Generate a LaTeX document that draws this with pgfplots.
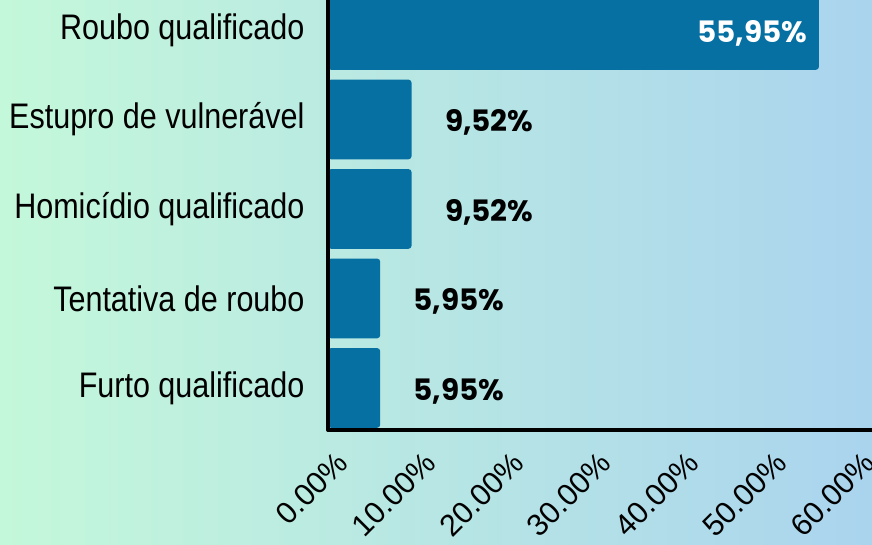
\documentclass[border=0pt]{standalone}
\usepackage{pgfplots}
\pgfplotsset{compat=1.18}
\usepackage{fontspec}
\setmainfont{Liberation Sans}[FakeStretch=0.86]
\newfontfamily\tickfont{Liberation Sans}
\newfontfamily\valfont{Poppins}
\definecolor{barblue}{RGB}{6,112,163}
\definecolor{bgl}{RGB}{196,248,218}
\definecolor{bgr}{RGB}{170,212,238}

\begin{document}
\begin{tikzpicture}
\useasboundingbox (0,0) rectangle (872pt,544pt);
\shade[left color=bgl, right color=bgr] (0,0) rectangle (872pt,544pt);
\begin{axis}[
    at={(328pt,114pt)}, anchor=south west,
    scale only axis,
    width=544pt, height=430pt,
    xbar, bar shift=0pt, bar width=0.89,
    xmin=0, xmax=62, ymin=-0.47, ymax=4.335,
    enlargelimits=false,
    axis x line*=bottom, axis y line*=left,
    axis line style={line width=3.5pt, line cap=round, -},
    axis on top,
    major tick length=0pt,
    /pgf/number format/assume math mode=true,
    xtick={0,10,...,60},
    xticklabel={\pgfmathprintnumber[fixed,fixed zerofill,precision=2,assume math mode=true]{\tick}\%},
    xticklabel style={font=\tickfont\fontsize{30.5}{34}\selectfont, rotate=45, anchor=east, xshift=-6pt, yshift=-30pt},
    ytick={0,1,2,3,4},
    yticklabels={Furto qualificado, Tentativa de roubo, Homicídio qualificado, Estupro de vulnerável, Roubo qualificado},
    yticklabel style={font=\fontsize{35.5}{40}\selectfont, xshift=-20pt},
    point meta=x,
    nodes near coords={\pgfmathprintnumber[fixed,fixed zerofill,precision=2,use comma,assume math mode=true]{\pgfplotspointmeta}\%},
]
\addplot[fill=barblue, draw=none, rounded corners=3pt,
    nodes near coords style={anchor=west, xshift=30pt, yshift=-3pt, text=black, font=\valfont\bfseries\fontsize{29.5}{33}\selectfont}]
    coordinates {(5.95,0) (5.95,1) (9.52,2) (9.52,3)};
\addplot[fill=barblue, draw=none, rounded corners=3pt,
    nodes near coords style={anchor=east, xshift=-8pt, yshift=-3pt, text=white, font=\valfont\bfseries\fontsize{29.5}{33}\selectfont}]
    coordinates {(55.95,4)};
\end{axis}
\end{tikzpicture}
\end{document}
